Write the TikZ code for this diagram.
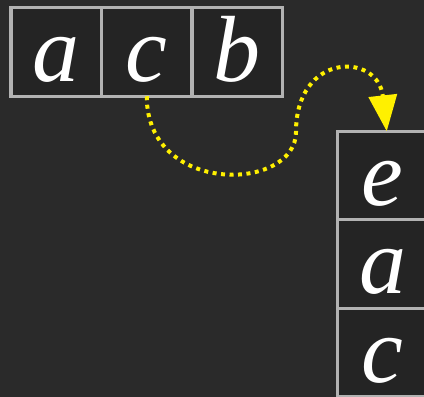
\documentclass[tikz,border=0pt]{standalone}
\usepackage{fontspec}
\newfontfamily\letrafont{Liberation Serif}[UprightFont={* Italic}]
\usetikzlibrary{positioning,arrows.meta}
\definecolor{fondo}{RGB}{42,42,42}
\definecolor{celdafill}{RGB}{36,36,36}
\definecolor{borde}{RGB}{178,178,178}
\definecolor{flecha}{RGB}{255,240,0}

\begin{document}
\begin{tikzpicture}[x=1pt,y=1pt,node distance=0pt,
  celda/.style={draw=borde,fill=celdafill,line width=3.2pt,
    minimum width=90.5pt,minimum height=88.5pt,inner sep=0pt,outer sep=0pt,
    text=white,font=\letrafont\fontsize{94}{94}\selectfont,
    text height=60pt,text depth=0pt}]
  \fill[fondo] (0,0) rectangle (424,397);
  \useasboundingbox (0,0) rectangle (424,397);
  % fila superior
  \node[celda] (a1) at (56.25,345) {a};
  \node[celda,right=of a1] (c1) {c};
  \node[celda,right=of c1] (b1) {b};
  % pila de la derecha
  \node[celda] (e2) at (382.75,221.5) {e};
  \node[celda,below=of e2] (a2) {a};
  \node[celda,below=of a2] (c2) {c};
  % flecha punteada
  \coordinate (giro) at (296,265);
  \draw[flecha,line width=4pt,dash pattern=on 4pt off 4.5pt,
    -{Triangle[length=36pt,width=28pt]}]
    (c1.south) .. controls +(0,-100) and (296,205) .. (giro)
    .. controls (296,345) and (378,345) .. ([xshift=4pt]e2.north);
\end{tikzpicture}
\end{document}
